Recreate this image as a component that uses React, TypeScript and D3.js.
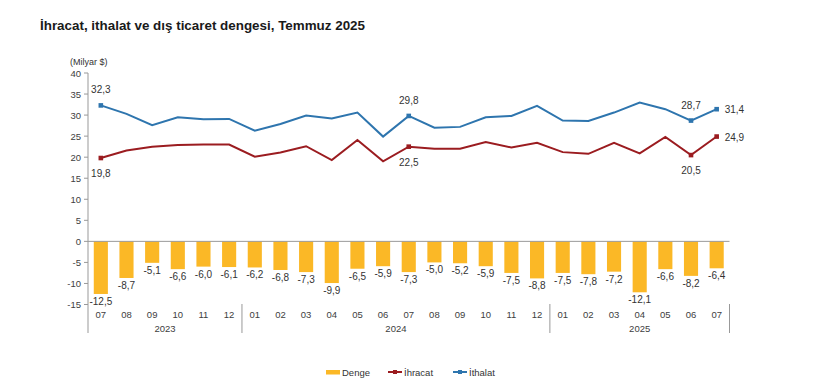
import React from "react";
import * as d3 from "d3";

const months = ["07","08","09","10","11","12","01","02","03","04","05","06","07","08","09","10","11","12","01","02","03","04","05","06","07"];
const years = [
  { label: "2023", start: 0, end: 5 },
  { label: "2024", start: 6, end: 17 },
  { label: "2025", start: 18, end: 24 },
];
const denge = [-12.5,-8.7,-5.1,-6.6,-6.0,-6.1,-6.2,-6.8,-7.3,-9.9,-6.5,-5.9,-7.3,-5.0,-5.2,-5.9,-7.5,-8.8,-7.5,-7.8,-7.2,-12.1,-6.6,-8.2,-6.4];
const ihracat = [19.8,21.6,22.5,22.9,23.0,23.0,20.1,21.1,22.6,19.3,24.1,19.0,22.5,22.0,22.0,23.6,22.3,23.4,21.2,20.8,23.4,20.9,24.8,20.5,24.9];
const ithalat = [32.3,30.3,27.6,29.5,29.0,29.1,26.3,27.9,29.9,29.2,30.6,24.9,29.8,27.0,27.2,29.5,29.8,32.2,28.7,28.6,30.6,33.0,31.4,28.7,31.4];
const yTicks = [40,35,30,25,20,15,10,5,0,-5,-10,-15];
const ithalatLabels = [
  { i: 0, pos: "top" },
  { i: 12, pos: "top" },
  { i: 23, pos: "top" },
  { i: 24, pos: "right" },
];
const ihracatLabels = [
  { i: 0, pos: "bottom" },
  { i: 12, pos: "bottom" },
  { i: 23, pos: "bottom" },
  { i: 24, pos: "right" },
];

const fmt = (v: number) => v.toFixed(1).replace(".", ",");

const C_BAR = "#FBB826";
const C_EXP = "#9B1C20";
const C_IMP = "#2E75AE";
const FONT = "'Liberation Sans', Arial, sans-serif";

export default function App() {
  const x0 = 88, x1 = 729.5;
  const x = d3.scaleBand<number>().domain(d3.range(months.length)).range([x0, x1]).paddingInner(0.45).paddingOuter(0.225);
  const cx = (i: number) => (x(i) as number) + x.bandwidth() / 2;
  const y = d3.scaleLinear().domain([-15, 40]).range([304.5, 73]);
  const step = (x1 - x0) / months.length;

  const line = d3.line<number>().x((_, i) => cx(i)).y((d) => y(d));

  const tickColor = "#404040";

  const pointLabel = (vals: number[], lbls: { i: number; pos: string }[], color: string) =>
    lbls.map(({ i, pos }) => {
      const px = cx(i), py = y(vals[i]);
      let tx = px, ty = py, anchor: "middle" | "start" = "middle";
      if (pos === "top") ty = py - 12;
      if (pos === "bottom") ty = py + 19;
      if (pos === "right") { tx = px + 8; ty = py + 4; anchor = "start"; }
      return (
        <g key={`${color}-${i}`}>
          <rect x={px - 2.3} y={py - 2.3} width={4.6} height={4.6} fill={color} />
          <text x={tx} y={ty} textAnchor={anchor} fontSize={10} fill="#333">{fmt(vals[i])}</text>
        </g>
      );
    });

  return (
    <svg width={818} height={383} style={{ position: "absolute", left: 0, top: 0, background: "#fff" }} fontFamily={FONT}>
      <text x={40} y={30} fontSize={13.4} fontWeight="bold" fill="#1a1a1a">İhracat, ithalat ve dış ticaret dengesi, Temmuz 2025</text>
      <text x={70} y={65} fontSize={9} fill="#333">(Milyar $)</text>

      {/* y axis */}
      <line x1={x0} x2={x0} y1={y(40)} y2={333} stroke="#999" />
      {yTicks.map((t) => (
        <g key={t}>
          <line x1={x0 - 4} x2={x0} y1={y(t)} y2={y(t)} stroke="#999" />
          <text x={x0 - 7} y={y(t) + 3.5} textAnchor="end" fontSize={9.5} fill={tickColor}>{t}</text>
        </g>
      ))}

      {/* bars */}
      {denge.map((v, i) => (
        <g key={i}>
          <rect x={x(i)} y={y(0)} width={x.bandwidth()} height={y(v) - y(0)} fill={C_BAR} />
          <text x={cx(i)} y={y(v) + 11} textAnchor="middle" fontSize={10} fill="#333">{fmt(v)}</text>
        </g>
      ))}
      <line x1={x0} x2={x1} y1={y(0)} y2={y(0)} stroke="#999" />

      {/* lines */}
      <path d={line(ithalat) || ""} fill="none" stroke={C_IMP} strokeWidth={2} />
      <path d={line(ihracat) || ""} fill="none" stroke={C_EXP} strokeWidth={2} />
      {pointLabel(ithalat, ithalatLabels, C_IMP)}
      {pointLabel(ihracat, ihracatLabels, C_EXP)}

      {/* x axis labels */}
      {months.map((m, i) => (
        <text key={i} x={cx(i)} y={318} textAnchor="middle" fontSize={9.5} fill={tickColor}>{m}</text>
      ))}
      {years.map((yr) => (
        <g key={yr.label}>
          <text x={(cx(yr.start) + cx(yr.end)) / 2} y={332} textAnchor="middle" fontSize={9.5} fill={tickColor}>{yr.label}</text>
          <line x1={x0 + step * (yr.end + 1)} x2={x0 + step * (yr.end + 1)} y1={304} y2={333} stroke="#999" />
        </g>
      ))}

      {/* legend */}
      <rect x={326} y={370} width={14} height={4.5} fill={C_BAR} />
      <text x={342} y={375.5} fontSize={9.5} fill="#333">Denge</text>
      <line x1={388} x2={402} y1={372} y2={372} stroke={C_EXP} strokeWidth={2} />
      <rect x={393} y={370} width={4} height={4} fill={C_EXP} />
      <text x={404} y={375.5} fontSize={9.5} fill="#333">İhracat</text>
      <line x1={453} x2={467} y1={372} y2={372} stroke={C_IMP} strokeWidth={2} />
      <rect x={458} y={370} width={4} height={4} fill={C_IMP} />
      <text x={469} y={375.5} fontSize={9.5} fill="#333">İthalat</text>
    </svg>
  );
}
